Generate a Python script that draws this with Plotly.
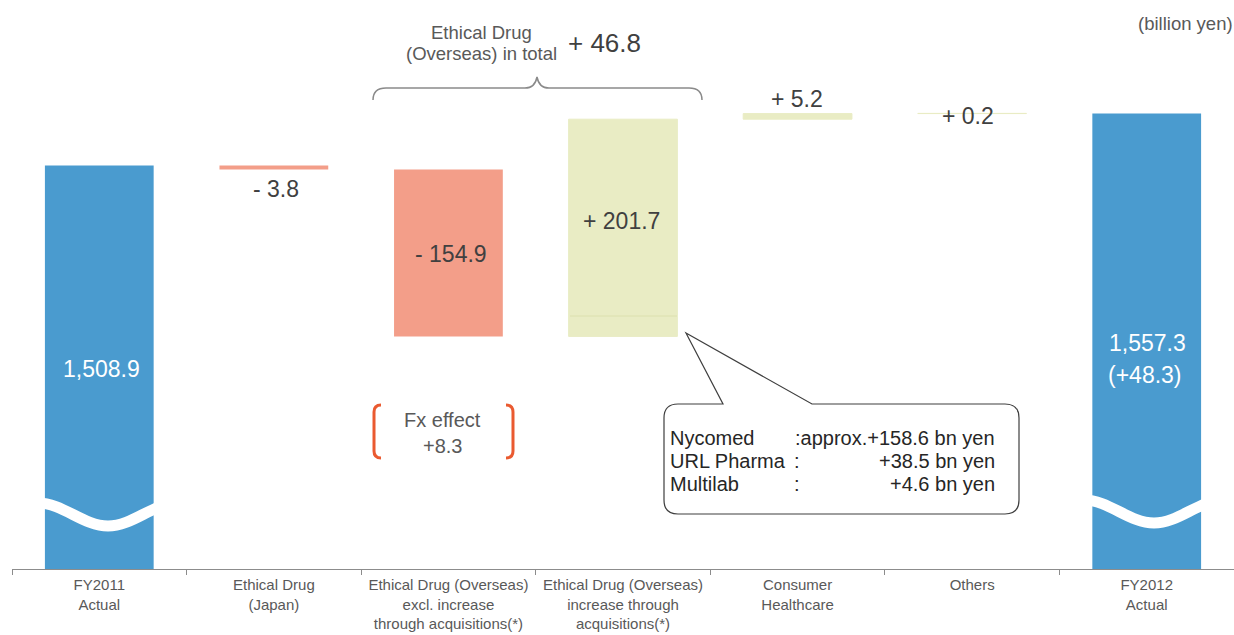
import plotly.graph_objects as go

# ---------------- data ----------------
categories = [
    "FY2011<br>Actual",
    "Ethical Drug<br>(Japan)",
    "Ethical Drug (Overseas)<br>excl. increase<br>through acquisitions(*)",
    "Ethical Drug (Overseas)<br>increase through<br>acquisitions(*)",
    "Consumer<br>Healthcare",
    "Others",
    "FY2012<br>Actual",
]
measures = ["absolute", "relative", "relative", "relative", "relative", "relative", "total"]
values = [1508.9, -3.8, -154.9, 201.7, 5.2, 0.2, 0]
fy2012_total = 1557.3
fy2012_change = 48.3
overseas_total = 46.8
fx_effect = 8.3
acq_names = ["Nycomed", "URL Pharma", "Multilab"]
acq_values = [158.6, 38.5, 4.6]
unit_label = "(billion yen)"

# ---------------- style ----------------
FONT = "Liberation Sans, Arial, sans-serif"
BLUE = "#4A9BCF"
SALMON = "#F39E89"
GREEN = "#E9ECC4"
DARK = "#404040"
GRAY = "#595959"

W, H = 1234, 635
ML, MR, MT, MB = 12, 0, 0, 66
PW, PH = W - ML - MR, H - MT - MB


def px(x):
    return (x - ML) / PW


def py(y):
    return (H - MB - y) / PH


def path(cmds):
    out = []
    for c, pts in cmds:
        s = c
        for (x, y) in pts:
            s += f" {px(x):.5f},{py(y):.5f}"
        out.append(s)
    return " ".join(out)


fig = go.Figure(go.Waterfall(
    x=categories,
    y=values,
    measure=measures,
    connector=dict(visible=False),
    increasing=dict(marker=dict(color=GREEN, line=dict(color=GREEN, width=1))),
    decreasing=dict(marker=dict(color=SALMON, line=dict(color=SALMON, width=0))),
    totals=dict(marker=dict(color=BLUE, line=dict(color=BLUE, width=0))),
    hoverinfo="skip",
))

ann = []


def label(x, y, text, size, color, **kw):
    ann.append(dict(x=px(x), y=py(y), xref="paper", yref="paper", text=text,
                    showarrow=False, font=dict(family=FONT, size=size, color=color),
                    xanchor=kw.get("xanchor", "center"), yanchor="middle"))


def fmt_rel(v):
    return f"+ {v:.1f}" if v >= 0 else f"- {abs(v):.1f}"


label(101, 369, f"{values[0]:,.1f}", 23, "white")
label(276, 189, fmt_rel(values[1]), 23, DARK)
label(451, 254, fmt_rel(values[2]), 23, DARK)
label(621, 221, fmt_rel(values[3]), 23, DARK)
label(797, 99, fmt_rel(values[4]), 23, DARK)
label(968, 116, fmt_rel(values[5]), 23, DARK)
label(1147, 343, f"{fy2012_total:,.1f}", 23, "white")
label(1145, 375, f"(+{fy2012_change:.1f})", 23, "white")
label(1185, 23, unit_label, 18.5, GRAY)
label(481, 32, "Ethical Drug", 18.5, GRAY)
label(481, 53, "(Overseas) in total", 18.5, GRAY)
label(604, 43, f"+ {overseas_total:.1f}", 26, DARK)
label(443, 420, "Fx effect", 20, GRAY)
label(443, 446, f"+{fx_effect}", 20, GRAY)

# callout text
rows_y = [438, 461, 484]
for i, (n, v) in enumerate(zip(acq_names, acq_values)):
    label(668, rows_y[i], n, 20, "#262626", xanchor="left")
    pre = ":approx." if i == 0 else ""
    label(997, rows_y[i], f"{pre}+{v} bn yen", 20, "#262626", xanchor="right")
    if i > 0:
        label(792, rows_y[i], ":", 20, "#262626", xanchor="left")

shapes = []
# wavy breaks on total bars
for cx, base in [(100, 514.5), (1146, 511.5)]:
    x0 = cx - 62
    shapes.append(dict(
        type="path", xref="paper", yref="paper",
        path=path([("M", [(x0, base - 11.5)]),
                   ("C", [(x0 + 25, base - 11.5), (x0 + 45, base + 11.5), (x0 + 70, base + 11.5)]),
                   ("C", [(x0 + 95, base + 11.5), (x0 + 115, base - 11.5), (x0 + 140, base - 11.5)])]),
        line=dict(color="white", width=11), fillcolor="rgba(0,0,0,0)"))

# faint line inside acquisitions bar
shapes.append(dict(type="line", xref="paper", yref="paper",
                   x0=px(570), x1=px(677), y0=py(316), y1=py(316),
                   line=dict(color="#DCE0AE", width=1)))

# brace over overseas bars
shapes.append(dict(
    type="path", xref="paper", yref="paper",
    path=path([("M", [(373, 100)]), ("Q", [(373, 88), (386, 88)]), ("L", [(525, 88)]),
               ("Q", [(535, 88), (537, 77)]), ("Q", [(539, 88), (549, 88)]), ("L", [(689, 88)]),
               ("Q", [(702, 88), (702, 100)])]),
    line=dict(color="#8A8A8A", width=1.5), fillcolor="rgba(0,0,0,0)"))

# Fx brackets
BR = "#EA5A30"
shapes.append(dict(
    type="path", xref="paper", yref="paper",
    path=path([("M", [(381, 405)]), ("Q", [(374, 405), (374, 412)]), ("L", [(374, 451)]),
               ("Q", [(374, 458), (381, 458)])]),
    line=dict(color=BR, width=3), fillcolor="rgba(0,0,0,0)"))
shapes.append(dict(
    type="path", xref="paper", yref="paper",
    path=path([("M", [(506, 405)]), ("Q", [(513, 405), (513, 412)]), ("L", [(513, 451)]),
               ("Q", [(513, 458), (506, 458)])]),
    line=dict(color=BR, width=3), fillcolor="rgba(0,0,0,0)"))

# callout box
shapes.append(dict(
    type="path", xref="paper", yref="paper",
    path=path([("M", [(678, 404)]), ("L", [(723, 404)]), ("L", [(686, 333)]), ("L", [(812, 404)]),
               ("L", [(1005, 404)]), ("Q", [(1019, 404), (1019, 418)]), ("L", [(1019, 500)]),
               ("Q", [(1019, 514), (1005, 514)]), ("L", [(678, 514)]), ("Q", [(664, 514), (664, 500)]),
               ("L", [(664, 418)]), ("Q", [(664, 404), (678, 404)]), ("Z", [])]),
    line=dict(color="#3F3F3F", width=1.2), fillcolor="white"))

fig.update_layout(
    width=W, height=H,
    margin=dict(l=ML, r=MR, t=MT, b=MB),
    plot_bgcolor="white", paper_bgcolor="white",
    showlegend=False,
    waterfallgap=0.377,
    annotations=ann,
    shapes=shapes,
    xaxis=dict(type="category", showline=True, linecolor="#8C8C8C", linewidth=1,
               ticks="outside", tickson="boundaries", ticklen=5, tickcolor="#8C8C8C",
               ticklabelstandoff=2, automargin=False,
               tickfont=dict(family=FONT, size=15, color=GRAY), showgrid=False,
               zeroline=False, fixedrange=True),
    yaxis=dict(range=[1134.25, 1662.57], visible=False, fixedrange=True, automargin=False),
)

fig.write_html("out.html")
